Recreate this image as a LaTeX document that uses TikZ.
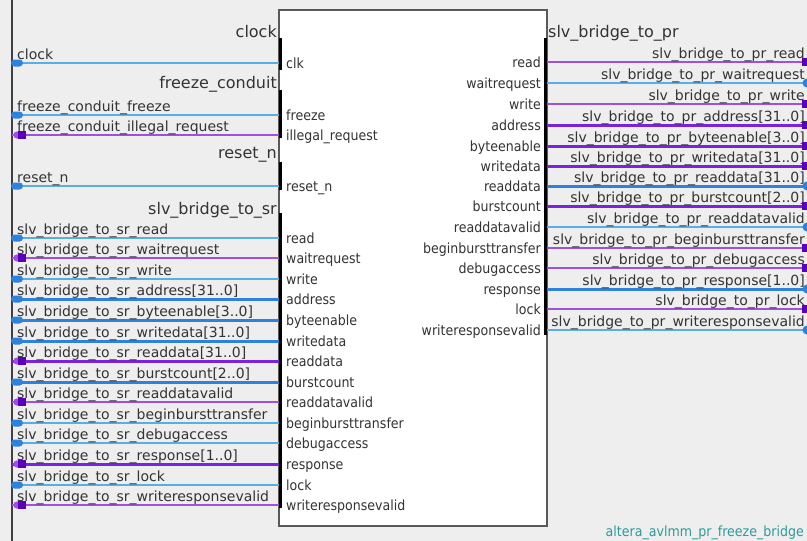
\documentclass[tikz,border=0pt]{standalone}
\usepackage{fontspec}
\setmainfont{DejaVu Sans}
\newfontfamily\innerfont[FakeStretch=0.9]{DejaVu Sans}
\definecolor{bg}{HTML}{EEEEEE}
\definecolor{bluethin}{HTML}{5AAEE6}
\definecolor{bluethick}{HTML}{2C82DC}
\definecolor{purthin}{HTML}{A050E0}
\definecolor{purthick}{HTML}{7A22E0}
\definecolor{purdark}{HTML}{5A00B8}
\definecolor{tealtxt}{HTML}{2E9A9A}
\definecolor{txt}{HTML}{333333}
\begin{document}
\begin{tikzpicture}[x=1pt,y=-1pt,
  bi/.style={bluethin,line width=1.5pt},
  bb/.style={bluethick,line width=3pt},
  pi/.style={purthin,line width=1.5pt},
  pb/.style={purthick,line width=3pt},
  sig/.style={text=txt,inner sep=0pt,font=\fontsize{14pt}{16pt}\selectfont},
  grp/.style={text=txt,inner sep=0pt,font=\fontsize{16pt}{18pt}\selectfont},
  port/.style={text=txt,inner sep=0pt,font=\innerfont\fontsize{14pt}{16pt}\selectfont},
  blockbox/.style={draw=gray!70!black,line width=1.2pt,fill=white,minimum width=268pt,minimum height=516pt,inner sep=0pt},
  bar/.style={fill=black}
]
\clip (0,0) rectangle (807,541);
\fill[bg] (0,0) rectangle (807,541);
\draw[gray!50!black,line width=1.2pt] (12,0) -- (12,541);
\node[blockbox] (blk) at (413,268) {};
% black port bars
\fill[bar] (279,38) rectangle (282,70);
\fill[bar] (279,90) rectangle (282,138);
\fill[bar] (279,162) rectangle (282,190);
\fill[bar] (279,213) rectangle (282,508);
\fill[bar] (544,38) rectangle (547,335);
% group titles
\node[grp,anchor=base east] (tclk) at (277,37) {clock};
\node[grp,anchor=base east] (tfrz) at (277,88) {freeze\_conduit};
\node[grp,anchor=base east] (trst) at (277,158) {reset\_n};
\node[grp,anchor=base east] (tsr) at (277,214) {slv\_bridge\_to\_sr};
\node[grp,anchor=base west] (tpr) at (548,37) {slv\_bridge\_to\_pr};
% left side
\foreach \y/\lab/\port/\sty [count=\i] in {
 63/clock/clk/bi,
 115/freeze\_conduit\_freeze/freeze/bi,
 135/freeze\_conduit\_illegal\_request/illegal\_request/pi,
 186/reset\_n/reset\_n/bi,
 238/slv\_bridge\_to\_sr\_read/read/bi,
 258/slv\_bridge\_to\_sr\_waitrequest/waitrequest/pi,
 279/slv\_bridge\_to\_sr\_write/write/bi,
 299/slv\_bridge\_to\_sr\_address[31..0]/address/bb,
 320/slv\_bridge\_to\_sr\_byteenable[3..0]/byteenable/bb,
 341/slv\_bridge\_to\_sr\_writedata[31..0]/writedata/bb,
 361/slv\_bridge\_to\_sr\_readdata[31..0]/readdata/pb,
 382/slv\_bridge\_to\_sr\_burstcount[2..0]/burstcount/bb,
 402/slv\_bridge\_to\_sr\_readdatavalid/readdatavalid/pi,
 423/slv\_bridge\_to\_sr\_beginbursttransfer/beginbursttransfer/bi,
 443/slv\_bridge\_to\_sr\_debugaccess/debugaccess/bi,
 464/slv\_bridge\_to\_sr\_response[1..0]/response/pb,
 485/slv\_bridge\_to\_sr\_lock/lock/bi,
 505/slv\_bridge\_to\_sr\_writeresponsevalid/writeresponsevalid/pi}{
  \coordinate (la\i) at (12,\y);
  \coordinate (lb\i) at (279,\y);
  \draw[\sty] (la\i) -- (lb\i);
  \node[sig,anchor=base west] (ln\i) at (17,\y-4) {\lab};
  \node[port,anchor=base west] (lp\i) at (286,\y+5) {\port};
}
% right side
\foreach \y/\lab/\port/\sty [count=\i] in {
 62/slv\_bridge\_to\_pr\_read/read/pi,
 83/slv\_bridge\_to\_pr\_waitrequest/waitrequest/bi,
 104/slv\_bridge\_to\_pr\_write/write/pi,
 125/slv\_bridge\_to\_pr\_address[31..0]/address/pb,
 146/slv\_bridge\_to\_pr\_byteenable[3..0]/byteenable/pb,
 166/slv\_bridge\_to\_pr\_writedata[31..0]/writedata/pb,
 186/slv\_bridge\_to\_pr\_readdata[31..0]/readdata/bb,
 206/slv\_bridge\_to\_pr\_burstcount[2..0]/burstcount/pb,
 227/slv\_bridge\_to\_pr\_readdatavalid/readdatavalid/bi,
 248/slv\_bridge\_to\_pr\_beginbursttransfer/beginbursttransfer/pi,
 268/slv\_bridge\_to\_pr\_debugaccess/debugaccess/pi,
 289/slv\_bridge\_to\_pr\_response[1..0]/response/bb,
 309/slv\_bridge\_to\_pr\_lock/lock/pi,
 330/slv\_bridge\_to\_pr\_writeresponsevalid/writeresponsevalid/bi}{
  \coordinate (ra\i) at (547,\y);
  \coordinate (rb\i) at (807,\y);
  \draw[\sty] (ra\i) -- (rb\i);
  \node[sig,anchor=base east] (rn\i) at (805,\y-4) {\lab};
  \node[port,anchor=base east] (rp\i) at (541,\y+5) {\port};
}
% left markers
\foreach \y in {63,115,186,238,279,299,320,341,382,423,443,485}
  \fill[bluethick,rounded corners=3.5pt] (11,\y-3.5) rectangle (23,\y+3.5);
\foreach \y in {135,258,361,402,464,505}{
  \fill[purthin] (17,\y) circle (3.6pt);
  \fill[purdark] (18,\y-4) rectangle (26,\y+4);
}
% right markers
\foreach \y in {62,104,125,146,166,206,248,268,309}
  \fill[purdark] (802,\y-4) rectangle (808,\y+4);
\foreach \y in {83,186,227,289,330}
  \fill[bluethick] (807,\y) circle (4.5pt);
% instance name
\node[port,text=tealtxt,anchor=base east] (inst) at (804,536) {altera\_avlmm\_pr\_freeze\_bridge};
\end{tikzpicture}
\end{document}
